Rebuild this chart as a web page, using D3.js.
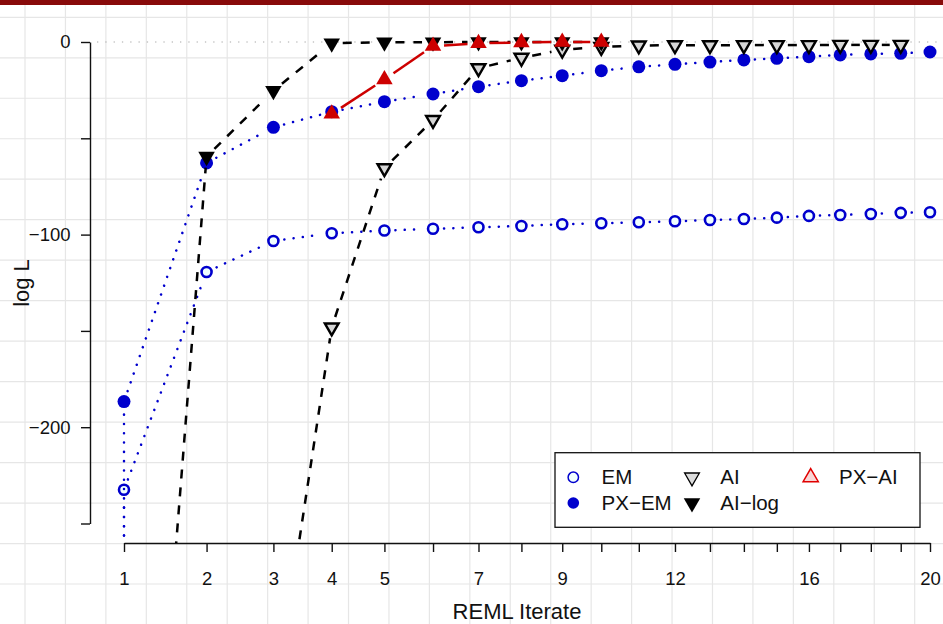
<!DOCTYPE html>
<html>
<head>
<meta charset="utf-8">
<script src="https://cdn.jsdelivr.net/npm/d3@7"></script>
<style>
  body { margin: 0; background: #fff; }
  svg { display: block; font-family: "Liberation Sans", Arial, sans-serif; }
</style>
</head>
<body>
<svg></svg>
<script>
let width = 943;
let height = 624;

// REML iterates and log L for each algorithm
let emIter     = [1, 1, 2, 3, 4, 5, 6, 7, 8, 9, 10, 11, 12, 13, 14, 15, 16, 17, 18, 19, 20];
let emLogL     = [-600, -232.5, -119.4, -103.3, -99.3, -97.9, -97.0, -96.2, -95.5, -94.6, -94.1,
                  -93.6, -93.1, -92.4, -91.9, -91.2, -90.3, -89.8, -89.3, -88.7, -88.4];
let pxemIter   = [1, 1, 2, 3, 4, 5, 6, 7, 8, 9, 10, 11, 12, 13, 14, 15, 16, 17, 18, 19, 20];
let pxemLogL   = [-600, -186.7, -62.8, -44.3, -36.2, -31.0, -27.0, -23.2, -20.1, -17.5, -14.9,
                  -12.9, -11.6, -10.4, -9.3, -8.5, -7.6, -6.7, -6.2, -5.9, -5.2];
let aiIter     = [3, 4, 5, 6, 7, 8, 9, 10, 11, 12, 13, 14, 15, 16, 17, 18, 19];
let aiLogL     = [-347, -148.2, -65.5, -40.5, -13.6, -8.2, -4.0, -2.6, -1.8, -1.7, -1.7,
                  -1.6, -1.6, -1.6, -1.5, -1.5, -1.5];
let ailogIter  = [1, 2, 3, 4, 5, 6, 7, 8, 9, 10];
let ailogLogL  = [-605, -59.5, -25.3, -0.6, -0.1, -0.1, 0, 0, 0, 0];
let pxaiIter   = [4, 5, 6, 7, 8, 9, 10];
let pxaiLogL   = [-37.3, -19.5, -2.1, -0.7, -0.2, 0, 0];

let xTicks      = [1, 2, 3, 4, 5, 6, 7, 8, 9, 10, 11, 12, 13, 14, 15, 16, 17, 18, 19, 20];
let xTickLabels = [1, 2, 3, 4, 5, 7, 9, 12, 16, 20];
let yTicks      = [0, -50, -100, -150, -200, -250];
let yTickLabels = [0, -100, -200];

let legendLabels = ["EM", "PX\u2212EM", "AI", "AI\u2212log", "PX\u2212AI"];

const blue = "#0000cd";
const red = "#cd0000";

let svg = d3.select("svg")
            .attr("width", width)
            .attr("height", height);

// graph paper background
let grid = svg.append("g").attr("stroke", "#e6e6e6").attr("stroke-width", 1.2);
grid.selectAll("line.v")
    .data(d3.range(-1, 24))
    .enter().append("line")
    .attr("x1", k => 25 + 40.44 * k).attr("x2", k => 25 + 40.44 * k)
    .attr("y1", 0).attr("y2", height);
grid.selectAll("line.h")
    .data(d3.range(-1, 16))
    .enter().append("line")
    .attr("y1", k => 17.3 + 40.48 * k).attr("y2", k => 17.3 + 40.48 * k)
    .attr("x1", 0).attr("x2", width);

svg.append("rect").attr("x", 0).attr("y", 0).attr("width", width).attr("height", 5)
   .attr("fill", "#880a0a");

// scales
let x = d3.scalePow().exponent(0.6).domain([1, 20]).range([124, 930]);
let y = d3.scaleLinear().domain([-250, 0]).range([523.5, 42]);

// zero reference
svg.append("line")
   .attr("x1", 97).attr("x2", width)
   .attr("y1", y(0)).attr("y2", y(0))
   .attr("stroke", "#a8a8a8").attr("stroke-width", 1.2)
   .attr("stroke-dasharray", "1.3,7");

// axes
let fmt = d3.format("d");
let yAxis = svg.append("g")
   .attr("transform", "translate(90,0)")
   .call(d3.axisLeft(y).tickValues(yTicks).tickSize(9).tickSizeOuter(0).tickPadding(10.5)
          .tickFormat(d => yTickLabels.includes(d) ? fmt(d) : ""));
let xAxis = svg.append("g")
   .attr("transform", "translate(0,543)")
   .call(d3.axisBottom(x).tickValues(xTicks).tickSize(9).tickSizeOuter(0)
          .tickFormat(d => xTickLabels.includes(d) ? d : ""));
xAxis.selectAll("text").attr("y", 42).attr("dy", 0);
[xAxis, yAxis].forEach(a => {
  a.attr("font-family", null).attr("font-size", 18.5);
  a.selectAll("text").attr("fill", "#111");
  a.selectAll("path, line").attr("stroke", "#111").attr("stroke-width", 1.4);
});

svg.append("text")
   .attr("transform", "translate(29,283) rotate(-90)")
   .attr("text-anchor", "middle").attr("font-size", 22).attr("fill", "#111")
   .text("log L");
svg.append("text")
   .attr("x", 517).attr("y", 619)
   .attr("text-anchor", "middle").attr("font-size", 22).attr("fill", "#111")
   .text("REML Iterate");

// symbols
let triUp = d3.symbol().type(d3.symbolTriangle);
let series = [
  {label: legendLabels[0], iter: emIter, vals: emLogL, color: blue, dash: "0.1,9.2", cap: "round", lw: 2.5,
   shape: "circle", r: 5, fill: "#f0ffff", stroke: blue, sw: 2.6},
  {label: legendLabels[1], iter: pxemIter, vals: pxemLogL, color: blue, dash: "0.1,9.2", cap: "round", lw: 2.5,
   shape: "circle", r: 6.5, fill: blue, stroke: "none", sw: 0},
  {label: legendLabels[2], iter: aiIter, vals: aiLogL, color: "#000", dash: "9,9", cap: "butt", lw: 2.5,
   shape: "down", size: 82, fill: "#d6d6d6", stroke: "#000", sw: 2.4},
  {label: legendLabels[3], iter: ailogIter, vals: ailogLogL, color: "#000", dash: "9,9", cap: "butt", lw: 2.5,
   shape: "down", size: 118, fill: "#000", stroke: "none", sw: 0},
  {label: legendLabels[4], iter: pxaiIter, vals: pxaiLogL, color: red, dash: null, cap: "butt", lw: 2.5,
   shape: "up", size: 118, fill: red, stroke: "none", sw: 0}
];

// segments with gaps around the points, like R type = "b"
function gapped(pts, gap) {
  let segs = [];
  for (let i = 1; i < pts.length; i++) {
    let [x0, y0] = pts[i - 1], [x1, y1] = pts[i];
    let dx = x1 - x0, dy = y1 - y0, len = Math.hypot(dx, dy);
    if (len <= 2 * gap) continue;
    let ux = dx / len, uy = dy / len;
    segs.push([[x0 + ux * gap, y0 + uy * gap], [x1 - ux * gap, y1 - uy * gap]]);
  }
  return segs;
}

svg.append("clipPath").attr("id", "plotclip")
   .append("rect").attr("x", 92).attr("y", 0).attr("width", width).attr("height", 543);

let plot = svg.append("g").attr("clip-path", "url(#plotclip)");
let line = d3.line();

function addMark(g, s, cx, cy) {
  let m;
  if (s.shape === "circle") {
    m = g.append("circle").attr("cx", cx).attr("cy", cy).attr("r", s.r);
  } else {
    m = g.append("path")
         .attr("d", triUp.size(s.size)())
         .attr("transform", `translate(${cx},${cy})` + (s.shape === "down" ? " rotate(180)" : ""));
  }
  m.attr("fill", s.fill).attr("stroke", s.stroke).attr("stroke-width", s.sw);
  return m;
}

series.forEach(s => {
  let pts = s.iter.map((it, i) => [x(it), y(s.vals[i])]);
  plot.append("g").selectAll("path")
      .data(gapped(pts, 11))
      .enter().append("path")
      .attr("d", line)
      .attr("fill", "none")
      .attr("stroke", s.color)
      .attr("stroke-width", s.lw)
      .attr("stroke-linecap", s.cap)
      .attr("stroke-dasharray", s.dash);
  let mg = plot.append("g");
  pts.forEach(p => addMark(mg, s, p[0], p[1]));
});

// legend
let lg = svg.append("g");
lg.append("rect")
  .attr("x", 555).attr("y", 452.7).attr("width", 365).attr("height", 74.6)
  .attr("fill", "#fff").attr("stroke", "#111").attr("stroke-width", 1.3);
let legCols = [573.3, 573.3, 692, 692, 810.7];
let legRows = [477.3, 503, 477.3, 503, 477.3];
let legStyle = [
  {fill: "#f0ffff", stroke: blue, sw: 1.5, r: 5.2},
  {fill: blue, stroke: "none", sw: 0, r: 5.8},
  {fill: "#dcdcdc", stroke: "#000", sw: 1.3, size: 95},
  {fill: "#000", stroke: "none", sw: 0, size: 118},
  {fill: "#f8d6d6", stroke: "#e00000", sw: 1.5, size: 100}
];
series.forEach((s, i) => {
  let ls = Object.assign({}, s, legStyle[i]);
  addMark(lg, ls, legCols[i], legRows[i]);
  lg.append("text")
    .attr("x", legCols[i] + 28.3).attr("y", legRows[i] + 7)
    .attr("font-size", 20.5).attr("fill", "#111")
    .text(s.label);
});
</script>
</body>
</html>
